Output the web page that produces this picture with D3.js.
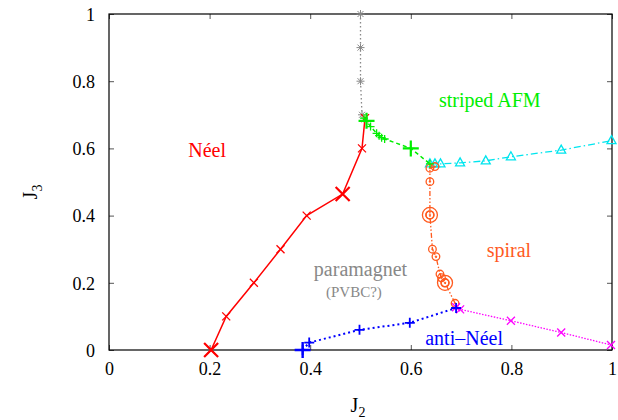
<!DOCTYPE html>
<html>
<head>
<meta charset="utf-8">
<style>
body { margin: 0; background: #fff; }
</style>
</head>
<body>
<svg width="618" height="420"></svg>
<script src="https://cdn.jsdelivr.net/npm/d3@7"></script>
<script>
// phase boundary points [J2, J3]
var neel = [[0.203,0],[0.233,0.1],[0.288,0.2],[0.341,0.3],[0.393,0.4],[0.4645,0.464],[0.503,0.6],[0.509,0.69]];
var neelBig = [[0.203,0],[0.4645,0.464]];
var para = [[0.5,1.0],[0.5,0.9],[0.5,0.8],[0.503,0.7]];
var striped = [[0.507,0.69],[0.512,0.682],[0.52,0.665],[0.532,0.645],[0.537,0.638],[0.542,0.632],[0.548,0.628],[0.6,0.6],[0.638,0.554]];
var stripedBig = [[0.512,0.682],[0.6,0.6]];
var cyanPts = [[0.638,0.554],[0.648,0.554],[0.659,0.554],[0.698,0.557],[0.749,0.563],[0.799,0.575],[0.899,0.595],[0.999,0.623]];
var spiral = [[0.648,0.546],[0.638,0.541],[0.638,0.501],[0.638,0.402],[0.643,0.3],[0.650,0.278],[0.658,0.226],[0.661,0.215],[0.668,0.2],[0.688,0.139]];
var spiralBig = [[0.638,0.402],[0.668,0.2]];
var antiNeel = [[0.385,0],[0.398,0.022],[0.498,0.06],[0.598,0.081],[0.69,0.125]];
var antiNeelBig = [[0.385,0]];
var magentaPts = [[0.69,0.127],[0.698,0.121],[0.799,0.087],[0.899,0.052],[0.998,0.015]];
var ticks = [0, 0.2, 0.4, 0.6, 0.8, 1];

var serif = "'Liberation Serif', 'DejaVu Serif', serif";
var svg = d3.select("svg"),
    margin = {top: 14, right: 6, bottom: 70, left: 109},
    width = 618 - margin.left - margin.right,
    height = 420 - margin.top - margin.bottom,
    g = svg.append("g").attr("transform", "translate(" + margin.left + "," + margin.top + ")")
      .style("font-family", serif);

var x = d3.scaleLinear().domain([0, 1]).range([0, width]);
var y = d3.scaleLinear().domain([0, 1]).range([height, 0]);

var fmt = function(d) { return d === 0 || d === 1 ? String(d) : d.toFixed(1); };

// axes with inward ticks on all sides
var ax = g.append("g").attr("transform", "translate(0," + height + ")")
    .call(d3.axisBottom(x).tickValues(ticks).tickSize(-5).tickPadding(12).tickFormat(fmt));
var ay = g.append("g")
    .call(d3.axisLeft(y).tickValues(ticks).tickSize(-5).tickPadding(14).tickFormat(fmt));
var at = g.append("g")
    .call(d3.axisTop(x).tickValues(ticks).tickSize(-5).tickFormat(""));
var ar = g.append("g").attr("transform", "translate(" + width + ",0)")
    .call(d3.axisRight(y).tickValues(ticks).tickSize(-5).tickFormat(""));
[ax, ay, at, ar].forEach(function(a) {
  a.attr("font-family", null);
  a.select(".domain").remove();
  a.selectAll(".tick line").attr("stroke", "#555");
  a.selectAll("text").style("font-family", serif).attr("font-size", 18).attr("fill", "#000");
});
ay.selectAll("text").attr("dy", "0.35em");

g.append("rect").attr("width", width).attr("height", height)
    .attr("fill", "none").attr("stroke", "#000").attr("stroke-width", 1.2);

var line = d3.line().x(function(d) { return x(d[0]); }).y(function(d) { return y(d[1]); });

function drawLine(data, color, dash, w) {
  g.append("path").datum(data).attr("d", line)
    .attr("fill", "none").attr("stroke", color)
    .attr("stroke-width", w || 1.3)
    .attr("stroke-dasharray", dash);
}

function markerPath(type, s) {
  if (type === "x") return "M" + (-s) + "," + (-s) + "L" + s + "," + s + "M" + (-s) + "," + s + "L" + s + "," + (-s);
  if (type === "+") return "M" + (-s) + ",0L" + s + ",0M0," + (-s) + "L0," + s;
  if (type === "*") return markerPath("x", s * 0.75) + markerPath("+", s);
  if (type === "tri") return "M0," + (-s) + "L" + (s * 0.9) + "," + (s * 0.6) + "L" + (-s * 0.9) + "," + (s * 0.6) + "Z";
  return "";
}

function drawMarks(data, type, color, s, w) {
  g.append("g").selectAll("path").data(data).enter().append("path")
    .attr("transform", function(d) { return "translate(" + x(d[0]) + "," + y(d[1]) + ")"; })
    .attr("d", markerPath(type, s))
    .attr("fill", "none").attr("stroke", color).attr("stroke-width", w || 1.3);
}

function drawCircles(data, color, r, big) {
  var c = g.append("g").selectAll("g").data(data).enter().append("g")
    .attr("transform", function(d) { return "translate(" + x(d[0]) + "," + y(d[1]) + ")"; });
  c.append("circle").attr("r", r).attr("fill", "none").attr("stroke", color).attr("stroke-width", 1.3);
  c.append("circle").attr("r", big ? r * 0.55 : 0.8).attr("fill", big ? "none" : color)
    .attr("stroke", color).attr("stroke-width", big ? 1.3 : 0.6);
}

var red = "#ff0000", green = "#00ee00", cyan = "#00e5ee", orange = "#ff5a1e",
    blue = "#0000ff", magenta = "#ff00ff", grey = "#888888";

drawLine(para, grey, "1.5,2.5");
drawMarks(para, "*", grey, 4, 1);
drawLine(neel, red, null, 1.5);
drawMarks(neel, "x", red, 4);
drawMarks(neelBig, "x", red, 7, 2.2);
drawLine(cyanPts, cyan, "7,3,1.5,3");
drawMarks(cyanPts, "tri", cyan, 5);
drawLine(spiral, orange, "5,2,1.5,2,1.5,2");
drawCircles(spiral, orange, 3.8, false);
drawCircles(spiralBig, orange, 7.5, true);
drawLine(striped, green, "4,3", 1.5);
drawMarks(striped, "+", green, 4);
drawMarks(stripedBig, "+", green, 8, 2.2);
drawLine(magentaPts, magenta, "1.5,1.5");
drawMarks(magentaPts, "x", magenta, 4);
drawLine(antiNeel, blue, "2,3", 2);
drawMarks(antiNeel, "+", blue, 5, 1.8);
drawMarks(antiNeelBig, "+", blue, 8, 2.4);

// region labels
function label(tx, px, py, color, size) {
  g.append("text").attr("x", x(px)).attr("y", y(py)).style("font-family", serif)
    .attr("fill", color).attr("font-size", size || 20).attr("text-anchor", "middle").text(tx);
}
label("Néel", 0.195, 0.574, red);
label("striped AFM", 0.757, 0.723, green);
label("spiral", 0.795, 0.277, orange);
label("paramagnet", 0.5, 0.22, grey);
label("(PVBC?)", 0.487, 0.158, grey, 15);
label("anti\u2013Néel", 0.706, 0.015, blue);

// axis titles
var xt = svg.append("text").attr("x", 358).attr("y", 412).style("font-family", serif)
    .attr("font-size", 20).attr("text-anchor", "middle");
xt.append("tspan").text("J");
xt.append("tspan").attr("font-size", 14).attr("dy", 5).text("2");
var yt = svg.append("text").attr("transform", "translate(37,192) rotate(-90)").style("font-family", serif)
    .attr("font-size", 20).attr("text-anchor", "middle");
yt.append("tspan").text("J");
yt.append("tspan").attr("font-size", 14).attr("dy", 5).text("3");
</script>
</body>
</html>
